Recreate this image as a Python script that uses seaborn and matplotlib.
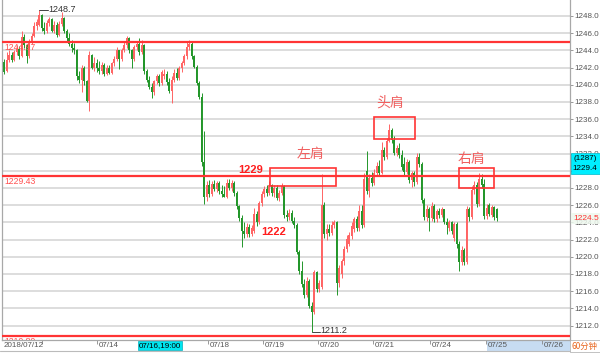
import numpy as np
import matplotlib
matplotlib.use("Agg")
import matplotlib.pyplot as plt
from matplotlib.patches import Rectangle
from matplotlib.transforms import blended_transform_factory
import seaborn as sns

# ---------------- data (60-minute candles) ----------------
opens = [1242.7, 1241.6, 1242.9, 1243.5, 1242.9, 1243.8, 1244.2, 1243.3, 1245.5, 1244.6,
         1243.3, 1244.9, 1245.7, 1246.8, 1247.0, 1248.1, 1246.6, 1246.2, 1247.2, 1247.6,
         1246.3, 1247.0, 1245.8, 1247.1, 1247.8, 1246.3, 1245.4, 1244.8, 1244.3, 1244.0,
         1241.0, 1240.6, 1241.9, 1240.4, 1238.1, 1243.5, 1242.0, 1242.5, 1241.9, 1241.6,
         1242.3, 1241.3, 1242.0, 1241.4, 1242.5, 1243.0, 1244.0, 1243.0, 1244.1, 1244.6,
         1245.4, 1244.0, 1243.0, 1244.4, 1244.8, 1243.8, 1244.6, 1241.6, 1240.6, 1239.8,
         1239.2, 1240.4, 1241.0, 1240.2, 1241.0, 1241.3, 1240.3, 1239.3, 1240.6, 1241.4,
         1240.8, 1241.9, 1242.5, 1243.3, 1244.4, 1244.8, 1243.3, 1242.1, 1240.2, 1238.6,
         1231.0, 1227.0, 1228.4, 1227.3, 1228.5, 1227.9, 1228.6, 1227.6, 1227.3, 1227.0,
         1228.6, 1228.0, 1228.6, 1227.4, 1225.9, 1224.5, 1223.0, 1222.6, 1223.5, 1222.6,
         1223.0, 1225.0, 1224.0, 1226.2, 1227.3, 1227.9, 1227.4, 1228.3, 1227.4, 1228.0,
         1226.8, 1227.4, 1228.2, 1224.9, 1224.6, 1225.1, 1224.2, 1223.7, 1220.6, 1218.3,
         1216.8, 1215.6, 1217.2, 1214.3, 1213.6, 1218.2, 1216.2, 1216.5, 1226.0, 1222.6,
         1223.2, 1222.8, 1223.7, 1224.0, 1217.0, 1218.0, 1219.5, 1220.9, 1221.5, 1222.4,
         1223.2, 1224.4, 1223.3, 1225.3, 1223.7, 1230.0, 1227.6, 1229.2, 1228.6, 1229.8,
         1230.6, 1229.8, 1232.4, 1231.6, 1233.5, 1234.8, 1233.6, 1232.1, 1232.7, 1231.8,
         1230.8, 1229.9, 1231.0, 1228.9, 1229.7, 1228.7, 1231.6, 1230.8, 1226.6, 1224.6,
         1225.5, 1224.5, 1225.9, 1224.4, 1225.3, 1224.9, 1225.5, 1224.1, 1223.4, 1224.0,
         1222.2, 1223.8, 1221.5, 1219.4, 1220.8, 1219.4, 1225.5, 1224.6, 1227.8, 1228.4,
         1226.1, 1229.0, 1228.5, 1224.7, 1226.0, 1224.9, 1225.8, 1225.5]
highs = [1243.0, 1243.8, 1244.0, 1243.8, 1244.1, 1244.6, 1244.5, 1246.3, 1245.9, 1244.8,
         1245.3, 1246.0, 1247.3, 1247.7, 1248.7, 1248.2, 1247.3, 1247.5, 1247.9, 1247.8,
         1247.4, 1247.3, 1247.4, 1248.5, 1247.9, 1246.5, 1246.0, 1245.2, 1244.9, 1244.2,
         1241.6, 1242.3, 1242.2, 1240.6, 1243.9, 1243.6, 1243.2, 1243.0, 1242.8, 1242.6,
         1242.5, 1242.3, 1242.3, 1242.7, 1243.4, 1244.4, 1244.1, 1244.3, 1245.1, 1245.7,
         1245.5, 1244.2, 1244.6, 1245.1, 1245.4, 1245.2, 1244.7, 1241.8, 1241.0, 1240.2,
         1240.6, 1241.3, 1241.3, 1241.7, 1241.8, 1241.6, 1240.8, 1241.0, 1241.8, 1241.9,
         1242.2, 1242.8, 1243.6, 1245.0, 1245.2, 1245.0, 1243.5, 1242.3, 1240.4, 1239.0,
         1234.6, 1228.8, 1228.9, 1228.8, 1228.9, 1228.8, 1228.8, 1228.3, 1228.2, 1229.0,
         1229.1, 1228.9, 1228.8, 1227.7, 1226.0, 1224.9, 1224.0, 1223.9, 1223.8, 1223.7,
         1225.7, 1225.3, 1226.5, 1227.6, 1228.2, 1228.4, 1228.8, 1228.5, 1228.3, 1228.3,
         1227.8, 1228.6, 1228.3, 1225.4, 1225.5, 1225.4, 1224.6, 1223.9, 1220.8, 1219.5,
         1217.4, 1217.6, 1217.4, 1214.8, 1218.5, 1218.4, 1217.3, 1229.6, 1226.4, 1223.8,
         1223.8, 1224.2, 1224.3, 1224.2, 1219.0, 1219.8, 1221.2, 1222.5, 1222.9, 1224.0,
         1224.6, 1224.8, 1226.0, 1226.0, 1229.8, 1232.3, 1229.6, 1229.9, 1230.2, 1231.0,
         1231.2, 1233.3, 1232.8, 1233.8, 1235.4, 1235.0, 1234.0, 1233.0, 1233.2, 1232.4,
         1231.6, 1231.4, 1231.2, 1230.0, 1230.0, 1232.1, 1232.1, 1231.0, 1226.8, 1226.0,
         1225.8, 1226.4, 1226.1, 1225.6, 1225.7, 1225.8, 1225.6, 1224.5, 1224.3, 1224.2,
         1224.1, 1224.0, 1221.8, 1221.2, 1221.0, 1225.9, 1225.8, 1228.2, 1228.8, 1228.7,
         1229.8, 1229.6, 1229.0, 1226.1, 1226.3, 1226.0, 1225.9, 1225.7]
lows = [1241.3, 1241.5, 1242.6, 1242.6, 1242.8, 1243.5, 1243.0, 1243.2, 1244.3, 1242.5,
        1243.1, 1244.7, 1245.5, 1246.4, 1246.8, 1246.3, 1245.9, 1246.0, 1246.8, 1246.1,
        1246.0, 1245.5, 1245.7, 1246.8, 1246.0, 1245.0, 1244.5, 1243.8, 1243.6, 1240.5,
        1240.2, 1239.2, 1240.0, 1238.0, 1236.9, 1241.8, 1241.6, 1241.5, 1241.3, 1241.2,
        1241.0, 1241.1, 1241.2, 1241.2, 1242.2, 1242.8, 1241.8, 1242.8, 1243.8, 1244.3,
        1243.7, 1242.0, 1242.8, 1244.0, 1243.5, 1243.6, 1241.3, 1240.3, 1239.5, 1238.5,
        1238.8, 1240.1, 1239.9, 1240.0, 1240.7, 1240.0, 1239.0, 1237.9, 1240.3, 1240.5,
        1240.6, 1241.5, 1242.3, 1243.0, 1244.0, 1243.0, 1241.9, 1240.0, 1238.3, 1230.5,
        1226.1, 1226.5, 1227.0, 1227.1, 1227.6, 1227.5, 1227.3, 1227.0, 1226.9, 1226.8,
        1227.8, 1227.6, 1227.1, 1225.6, 1224.2, 1221.1, 1222.2, 1222.3, 1222.3, 1222.4,
        1222.8, 1223.6, 1223.8, 1225.9, 1226.9, 1227.1, 1227.2, 1227.1, 1227.0, 1226.6,
        1226.5, 1227.2, 1224.5, 1224.2, 1224.3, 1223.9, 1223.4, 1220.3, 1218.0, 1216.5,
        1215.2, 1215.3, 1214.0, 1211.2, 1213.3, 1215.9, 1215.9, 1216.2, 1222.2, 1222.0,
        1222.4, 1222.5, 1223.3, 1215.6, 1216.5, 1217.5, 1219.0, 1220.5, 1221.2, 1222.1,
        1222.9, 1223.0, 1223.0, 1223.4, 1223.5, 1227.3, 1227.0, 1228.2, 1228.4, 1229.5,
        1229.5, 1229.6, 1231.2, 1231.4, 1233.3, 1233.2, 1231.8, 1231.7, 1231.5, 1230.1,
        1229.5, 1229.6, 1228.6, 1228.1, 1228.2, 1228.5, 1230.4, 1226.3, 1224.3, 1224.2,
        1223.0, 1224.2, 1224.1, 1224.0, 1224.5, 1224.6, 1223.8, 1222.7, 1223.0, 1222.7,
        1221.8, 1221.0, 1218.4, 1219.0, 1219.0, 1219.2, 1224.2, 1224.4, 1227.3, 1225.8,
        1225.9, 1228.0, 1224.4, 1224.4, 1224.7, 1224.6, 1224.3, 1224.2]
closes = [1241.5, 1242.9, 1243.5, 1242.9, 1243.8, 1244.2, 1243.3, 1245.5, 1244.6, 1243.3,
          1244.9, 1245.7, 1246.8, 1247.3, 1248.1, 1246.6, 1246.2, 1247.2, 1247.6, 1246.3,
          1247.0, 1245.8, 1247.1, 1247.8, 1246.3, 1245.4, 1244.8, 1244.3, 1244.0, 1241.0,
          1240.6, 1241.9, 1240.4, 1238.1, 1243.5, 1242.0, 1242.5, 1241.9, 1241.6, 1242.3,
          1241.3, 1242.0, 1241.4, 1242.5, 1243.0, 1244.0, 1243.0, 1244.1, 1244.6, 1245.4,
          1244.0, 1243.0, 1244.4, 1244.8, 1243.8, 1244.6, 1241.6, 1240.6, 1239.8, 1239.2,
          1240.4, 1241.0, 1240.2, 1241.5, 1241.3, 1240.3, 1239.3, 1240.6, 1241.4, 1240.8,
          1241.9, 1242.5, 1243.3, 1244.4, 1244.8, 1243.3, 1242.1, 1240.2, 1238.6, 1231.0,
          1227.0, 1228.4, 1227.3, 1228.5, 1227.9, 1228.6, 1227.6, 1227.3, 1227.0, 1228.6,
          1228.0, 1228.6, 1227.4, 1225.9, 1224.5, 1223.0, 1222.6, 1223.5, 1222.6, 1223.4,
          1225.0, 1224.0, 1226.2, 1227.3, 1227.9, 1227.4, 1228.3, 1227.4, 1228.0, 1226.8,
          1227.4, 1228.2, 1224.9, 1224.6, 1225.1, 1224.2, 1223.7, 1220.6, 1218.3, 1216.8,
          1215.6, 1217.2, 1214.3, 1213.6, 1218.2, 1216.2, 1217.0, 1226.0, 1222.6, 1223.2,
          1222.8, 1223.7, 1224.0, 1217.0, 1218.7, 1219.5, 1220.9, 1222.1, 1222.5, 1223.6,
          1224.4, 1223.3, 1225.3, 1223.7, 1229.0, 1227.6, 1229.2, 1228.6, 1229.8, 1230.6,
          1229.8, 1232.4, 1231.6, 1233.5, 1234.8, 1233.6, 1232.1, 1232.7, 1231.8, 1230.4,
          1229.9, 1231.0, 1228.9, 1229.7, 1228.7, 1231.6, 1230.8, 1226.6, 1224.6, 1225.5,
          1224.5, 1225.9, 1224.4, 1225.3, 1224.9, 1225.5, 1224.1, 1223.7, 1224.0, 1223.0,
          1223.8, 1221.5, 1219.4, 1220.8, 1219.4, 1225.5, 1224.6, 1227.8, 1228.4, 1226.1,
          1229.0, 1228.3, 1224.7, 1225.7, 1225.0, 1225.8, 1224.6, 1224.5]

price_ticks = [1212.0, 1214.0, 1216.0, 1218.0, 1220.0, 1222.0, 1224.0, 1226.0, 1228.0,
               1230.0, 1232.0, 1234.0, 1236.0, 1238.0, 1240.0, 1242.0, 1244.0, 1246.0, 1248.0]
hidden_tick = 1230.0  # covered by the cyan price badge in the reference
date_labels = ["2018/07/12", "07/14", "07/18", "07/19", "07/20", "07/21", "07/24", "07/25", "07/26"]
date_pos = [15.2, 37.2, 81.6, 103.6, 125.6, 147.6, 170.4, 192.8, 215.2]
level_values = [1244.97, 1229.43, 1210.80]
level_labels = ["1244.97", "1229.43", "1210.80"]
box_names = ["左肩", "头肩", "右肩"]
box_x = [(106.4, 132.8), (148.0, 164.4), (181.9, 196.0)]
box_y = [(1228.23, 1230.36), (1233.64, 1236.31), (1227.97, 1230.29)]
name_pos = [(122.8, 1231.95), (154.4, 1237.88), (186.8, 1231.37)]
key_labels = ["1229", "1222"]
key_pos = [(98.8, 1230.09), (107.8, 1222.88)]

# ---------------- style ----------------
sns.set_style("white")
plt.rcParams['font.family'] = ['Liberation Sans', 'Noto Sans CJK SC', 'DejaVu Sans']

UP = '#ff6464'
DOWN = '#23962a'
RED = '#ff3434'
GRAY = '#555555'

fig = plt.figure(figsize=(6, 3.53), dpi=100)
fig.patch.set_facecolor('white')
ax = fig.add_axes([0.004, 0.0382, 0.946, 0.9618])

df_x = np.arange(len(closes))
o = np.array(opens); h = np.array(highs); l = np.array(lows); c = np.array(closes)
up = c >= o
colors = np.where(up, UP, DOWN)

ax.vlines(df_x, l, h, colors=colors, lw=0.7, zorder=2)
body_bottom = np.minimum(o, c)
body_h = np.maximum(np.abs(c - o), 0.08)
ax.bar(df_x, body_h, bottom=body_bottom, width=0.72, color=colors, linewidth=0, zorder=2)

ax.set_xlim(-0.64, 226.4)
ax.set_ylim(1210.38, 1249.86)

# grid + right axis
ax.set_yticks(price_ticks)
ax.set_yticklabels(["" if v == hidden_tick else f"{v:.1f}" for v in price_ticks])
ax.yaxis.tick_right()
ax.tick_params(axis='y', right=True, length=2.2, width=0.6, color='#888888',
               labelsize=5.8, labelcolor=GRAY, pad=1.2)
ax.grid(axis='y', color='#dadada', lw=1.3)
ax.grid(axis='x', visible=False)
ax.set_axisbelow(True)

ax.set_xticks(date_pos)
ax.set_xticklabels([])
ax.tick_params(axis='x', bottom=True, length=3, width=0.6, color='#888888', direction='out')

for side in ['left', 'right', 'bottom']:
    ax.spines[side].set_visible(True)
    ax.spines[side].set_color('#a8a8a8')
    ax.spines[side].set_linewidth(0.9)
ax.spines['top'].set_visible(False)

# horizontal levels
for val, lab in zip(level_values, level_labels):
    ax.axhline(val, color=RED, lw=1.6, zorder=3)
    ax.text(0.2, val - 0.15, lab, color='#ff5050', fontsize=6.2, va='top', ha='left',
            zorder=5, clip_on=True)

# pattern boxes and names
for (x0, x1), (y0, y1) in zip(box_x, box_y):
    ax.add_patch(Rectangle((x0, y0), x1 - x0, y1 - y0, fill=False, ec=RED, lw=1.2, zorder=4))
for name, (px, py) in zip(box_names, name_pos):
    ax.text(px, py, name, color='#f06060', fontsize=10, ha='center', va='center',
            family=['Noto Sans CJK SC', 'DejaVu Sans'], zorder=5)
for lab, (px, py) in zip(key_labels, key_pos):
    ax.text(px, py, lab, color='#ff1e1e', fontsize=8, fontweight='bold',
            ha='center', va='center', zorder=5)

# high / low markers
hi_i = int(np.argmax(h)); lo_i = int(np.argmin(l))
ax.plot([hi_i, hi_i + 3.4], [h[hi_i], h[hi_i]], color='#444444', lw=0.7, zorder=5)
ax.text(hi_i + 3.7, h[hi_i], f"{h[hi_i]:.1f}", color='#333333', fontsize=6.5, va='center', ha='left')
ax.plot([lo_i, lo_i + 3.4], [l[lo_i], l[lo_i]], color='#444444', lw=0.7, zorder=5)
ax.text(lo_i + 3.7, l[lo_i] + 0.25, f"{l[lo_i]:.1f}", color='#333333', fontsize=6.5, va='center', ha='left')

# bottom date strip
tb = blended_transform_factory(ax.transData, fig.transFigure)
fy = lambda py: 1 - py / 353.0
fig.add_artist(Rectangle((487 / 600, fy(350.5)), 83 / 600, 10.5 / 353, transform=fig.transFigure,
                         fc='#c7dcf2', ec='none', zorder=-1))
for i, (lab, p) in enumerate(zip(date_labels, date_pos)):
    if i == 0:
        ax.text(-0.2, fy(345.5), lab, transform=tb, ha='left', va='center',
                fontsize=5.8, color=GRAY, clip_on=False)
    else:
        ax.text(p + 0.6, fy(345.5), lab, transform=tb, ha='left', va='center',
                fontsize=5.8, color=GRAY, clip_on=False)
ax.text(62.4, fy(345.5), "07/16,19:00", transform=tb, ha='center', va='center', fontsize=5.8,
        color='black', clip_on=False,
        bbox=dict(boxstyle='square,pad=0.15', fc='#00e6f0', ec='#00b0c0', lw=0.5))
fig.add_artist(plt.Line2D([0, 1], [fy(351), fy(351)], transform=fig.transFigure,
                          color='#bbbbbb', lw=0.8))

# right side badges
fig.add_artist(Rectangle((570.5 / 600, fy(173.5)), 29.5 / 600, 20.5 / 353, transform=fig.transFigure,
                         fc='#00eeff', ec='#00b8c8', lw=0.5, zorder=3))
fig.text(585 / 600, fy(158.5), "(1287)", ha='center', va='center', fontsize=5.8, color='black', zorder=4)
fig.text(585 / 600, fy(168.5), "1229.4", ha='center', va='center', fontsize=5.8, color='black', zorder=4)
fig.text(586 / 600, fy(218.5), "1224.5", ha='center', va='center', fontsize=6.0, color='#ff3030', zorder=4,
         bbox=dict(boxstyle='square,pad=0.2', fc='#eef8ee', ec='none', alpha=0.85))
fig.text(585 / 600, fy(346), "60分钟", ha='center', va='center', fontsize=6.0, color='#e8661e',
         family=['Noto Sans CJK SC', 'DejaVu Sans'], zorder=4,
         bbox=dict(boxstyle='square,pad=0.2', fc='white', ec='#aaaaaa', lw=0.5))

fig.savefig('out.png', dpi=100)
